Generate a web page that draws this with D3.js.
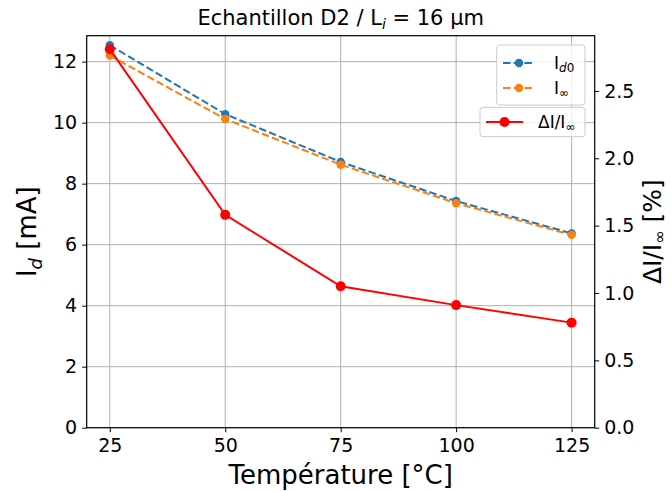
<!DOCTYPE html>
<html><head><meta charset="utf-8">
<script src="https://cdn.jsdelivr.net/npm/d3@7"></script>
<style>body{margin:0;background:#fff}svg{display:block}text{font-family:"DejaVu Sans",sans-serif;fill:#000}</style>
</head><body><svg id="c" width="671" height="491"></svg>
<script>
const temps = [25, 50, 75, 100, 125];
const id0 = [12.54, 10.28, 8.71, 7.43, 6.37];
const iInf = [12.20, 10.12, 8.62, 7.36, 6.32];
const dRel = [2.81, 1.58, 1.05, 0.91, 0.78];
const xTicks = [25, 50, 75, 100, 125];
const yTicks = [0, 2, 4, 6, 8, 10, 12];
const y2Ticks = [0.0, 0.5, 1.0, 1.5, 2.0, 2.5];

const svg = d3.select("#c");
const L = 86.7, R = 594.7, T = 35.7, B = 427.7;
const x = d3.scaleLinear().domain([20, 130]).range([L, R]);
const y = d3.scaleLinear().domain([0, 12.85]).range([B, T]);
const y2 = d3.scaleLinear().domain([0, 2.91]).range([B, T]);

// grid
const g = svg.append("g");
g.selectAll(".gx").data(xTicks).join("line").attr("x1", d => x(d)).attr("x2", d => x(d))
  .attr("y1", T).attr("y2", B).attr("stroke", "#b0b0b0").attr("stroke-width", 1);
g.selectAll(".gy").data(yTicks).join("line").attr("y1", d => y(d)).attr("y2", d => y(d))
  .attr("x1", L).attr("x2", R).attr("stroke", "#b0b0b0").attr("stroke-width", 1);

const fs = 19;
function styleAxis(sel) {
  sel.select(".domain").remove();
  sel.selectAll(".tick line").attr("stroke", "#000").attr("stroke-width", 1);
  sel.selectAll(".tick text").attr("font-size", fs).attr("font-family", "DejaVu Sans").attr("fill", "#111");
}
svg.append("g").attr("transform", `translate(0,${B})`)
  .call(d3.axisBottom(x).tickValues(xTicks).tickSize(4.5).tickPadding(6).tickFormat(d3.format("d"))).call(styleAxis);
svg.append("g").attr("transform", `translate(${L},0)`)
  .call(d3.axisLeft(y).tickValues(yTicks).tickSize(4.5).tickPadding(5).tickFormat(d3.format("d"))).call(styleAxis);
svg.append("g").attr("transform", `translate(${R},0)`)
  .call(d3.axisRight(y2).tickValues(y2Ticks).tickSize(4.5).tickPadding(5).tickFormat(d3.format(".1f"))).call(styleAxis);

// lines
const line1 = d3.line().x((d, i) => x(temps[i])).y(d => y(d));
const line2 = d3.line().x((d, i) => x(temps[i])).y(d => y2(d));
function series(vals, ln, color, dash, r) {
  const gg = svg.append("g");
  gg.append("path").attr("d", ln(vals)).attr("fill", "none").attr("stroke", color)
    .attr("stroke-width", 2).attr("stroke-dasharray", dash);
  gg.selectAll("circle").data(vals).join("circle")
    .attr("cx", (d, i) => x(temps[i])).attr("cy", (d) => ln === line1 ? y(d) : y2(d))
    .attr("r", r).attr("fill", color);
}
series(id0, line1, "#1f77b4", "7.5,3.2", 4.2);
series(iInf, line1, "#ff7f0e", "7.5,3.2", 4.2);
series(dRel, line2, "#ff0000", null, 5);

// frame
svg.append("rect").attr("x", L).attr("y", T).attr("width", R - L).attr("height", B - T)
  .attr("fill", "none").attr("stroke", "#000").attr("stroke-width", 1.2);

// title
const title = svg.append("text").attr("x", (L + R) / 2).attr("y", 25).attr("text-anchor", "middle").attr("font-size", 21);
title.append("tspan").text("Echantillon D2 / L");
title.append("tspan").attr("font-style", "italic").attr("font-size", 14).attr("dy", 4).text("i");
title.append("tspan").attr("dy", -4).text("\u00a0= 16 µm");

// axis labels
svg.append("text").attr("x", (L + R) / 2).attr("y", 484).attr("text-anchor", "middle").attr("font-size", 26)
  .text("Température [°C]");
const yl = svg.append("text").attr("transform", `translate(36,${(T + B) / 2}) rotate(-90)`).attr("text-anchor", "middle").attr("font-size", 26);
yl.append("tspan").text("I");
yl.append("tspan").attr("font-style", "italic").attr("font-size", 18).attr("dy", 6).text("d");
yl.append("tspan").attr("dy", -6).text("\u00a0[mA]");
const yr = svg.append("text").attr("transform", `translate(661,${(T + B) / 2}) rotate(-90)`).attr("text-anchor", "middle").attr("font-size", 25);
yr.append("tspan").text("ΔI/I");
yr.append("tspan").attr("font-size", 16).attr("dy", 4).text("∞");
yr.append("tspan").attr("dy", -4).text("\u00a0[%]");

// legends
function legBox(x0, y0, w, h) {
  svg.append("rect").attr("x", x0).attr("y", y0).attr("width", w).attr("height", h).attr("rx", 3)
    .attr("fill", "#fff").attr("fill-opacity", 0.8).attr("stroke", "#cccccc").attr("stroke-width", 1);
}
legBox(496.7, 45, 88.3, 60);
legBox(480, 107.3, 105, 29.4);
function legItem(x0, x1, yy, color, dash, r) {
  svg.append("line").attr("x1", x0).attr("x2", x1).attr("y1", yy).attr("y2", yy)
    .attr("stroke", color).attr("stroke-width", 2).attr("stroke-dasharray", dash);
  svg.append("circle").attr("cx", (x0 + x1) / 2).attr("cy", yy).attr("r", r).attr("fill", color);
}
legItem(503, 535, 63, "#1f77b4", "7.5,3.2", 4.2);
legItem(503, 535, 88, "#ff7f0e", "7.5,3.2", 4.2);
legItem(486, 523, 122, "#ff0000", null, 5);
const t1 = svg.append("text").attr("x", 554).attr("y", 69).attr("font-size", 17);
t1.append("tspan").text("I");
t1.append("tspan").attr("font-size", 12).attr("dy", 3).attr("font-style", "italic").text("d");
t1.append("tspan").attr("font-size", 12).text("0");
const t2 = svg.append("text").attr("x", 554).attr("y", 94).attr("font-size", 17);
t2.append("tspan").text("I");
t2.append("tspan").attr("font-size", 12).attr("dy", 3).text("∞");
const t3 = svg.append("text").attr("x", 538).attr("y", 128).attr("font-size", 17);
t3.append("tspan").text("ΔI/I");
t3.append("tspan").attr("font-size", 12).attr("dy", 3).text("∞");
</script></body></html>
